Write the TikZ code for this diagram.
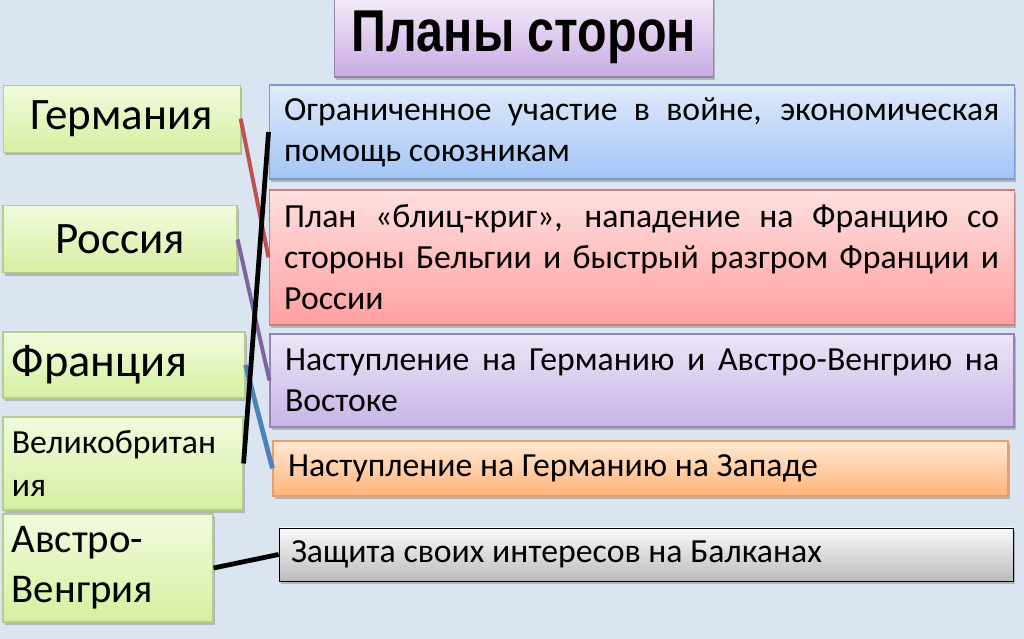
\documentclass[tikz,border=0pt]{standalone}
\usepackage{fontspec}
\setmainfont{Carlito}
\newfontfamily\headfont[FakeStretch=0.82]{Liberation Sans}
\usepackage{xcolor}
\usetikzlibrary{shadows, backgrounds}

\definecolor{slidebg}{RGB}{219,229,241}
\definecolor{greentop}{RGB}{242,251,222}
\definecolor{greenbot}{RGB}{214,239,160}
\definecolor{greenedge}{RGB}{182,204,140}
\definecolor{bluetop}{RGB}{224,234,251}
\definecolor{bluebot}{RGB}{163,197,245}
\definecolor{blueedge}{RGB}{122,152,200}
\definecolor{redtop}{RGB}{255,224,224}
\definecolor{redbot}{RGB}{255,160,160}
\definecolor{rededge}{RGB}{210,122,122}
\definecolor{violettop}{RGB}{236,230,247}
\definecolor{violetbot}{RGB}{199,180,230}
\definecolor{violetedge}{RGB}{150,130,182}
\definecolor{orangetop}{RGB}{255,233,212}
\definecolor{orangebot}{RGB}{255,180,122}
\definecolor{orangeedge}{RGB}{228,160,102}
\definecolor{greytop}{RGB}{250,250,250}
\definecolor{greybot}{RGB}{188,188,188}
\definecolor{titletop}{RGB}{245,236,249}
\definecolor{titlebot}{RGB}{200,170,226}
\definecolor{titleedge}{RGB}{150,132,172}
\definecolor{linkred}{RGB}{192,80,77}
\definecolor{linkviolet}{RGB}{128,100,162}
\definecolor{linkblue}{RGB}{79,129,189}

\begin{document}
\begin{tikzpicture}[
    box/.style={draw, line width=0.8pt, inner sep=0pt,
        drop shadow={shadow xshift=0.05cm, shadow yshift=-0.07cm, opacity=0.3, fill=black!70}},
    titlebox/.style={box, draw=titleedge, top color=titletop, bottom color=titlebot,
        font=\headfont\bfseries\fontsize{42}{48}\selectfont},
    country/.style={box, draw=greenedge, top color=greentop, bottom color=greenbot},
    countryleft/.style={country, align=left, inner xsep=0.22cm},
    plan/.style={box, align=justify, inner xsep=0.375cm, font=\fontsize{24}{29.2}\selectfont},
    link/.style={line width=2.8pt},
    heavylink/.style={line width=3.4pt}
]
    \fill[slidebg] (0,0) rectangle (25.6,15.975);
    \useasboundingbox (0,0) rectangle (25.6,15.975);

    \node[titlebox, minimum width=9.475cm, minimum height=2.0cm] (title) at (13.09, 15.05) {Планы сторон};

    % Countries on the left.
    \node[country, minimum width=5.925cm, minimum height=1.675cm, font=\fontsize{32}{38}\selectfont] (germany) at (3.04, 13.01) {Германия};
    \node[country, minimum width=5.85cm, minimum height=1.675cm, font=\fontsize{32}{38}\selectfont] (russia) at (3.0, 9.99) {Россия};
    \node[countryleft, text width=5.61cm, minimum height=1.65cm, font=\fontsize{33}{39}\selectfont] (france) at (3.1, 6.85) {Франция};
    \node[countryleft, text width=5.56cm, minimum height=2.325cm, font=\fontsize{24}{30}\selectfont] (britain) at (3.075, 4.3875) {Великобритан\\ия};
    \node[countryleft, text width=4.81cm, minimum height=2.7cm, font=\fontsize{29}{35.5}\selectfont] (austria) at (2.7, 1.775) {Австро-\\Венгрия};

    % Plans on the right.
    \node[plan, draw=blueedge, top color=bluetop, bottom color=bluebot, text width=17.875cm, minimum height=2.35cm] (limited) at (16.04, 12.675) {Ограниченное участие в войне, экономическая\linebreak помощь союзникам};
    \node[plan, draw=rededge, top color=redtop, bottom color=redbot, text width=17.875cm, minimum height=3.375cm] (blitz) at (16.04, 9.5375) {План «блиц-криг», нападение на Францию со\linebreak стороны Бельгии и быстрый разгром Франции и\linebreak России};
    \node[plan, draw=violetedge, top color=violettop, bottom color=violetbot, text width=17.85cm, minimum height=2.325cm] (east) at (16.05, 6.4625) {Наступление на Германию и Австро-Венгрию на\linebreak Востоке};
    \node[plan, draw=orangeedge, top color=orangetop, bottom color=orangebot, text width=17.625cm, minimum height=1.375cm] (west) at (16.0125, 4.2625) {Наступление на Германию на Западе};
    \node[plan, draw=black, top color=greytop, bottom color=greybot, line width=0.6pt, inner xsep=0.3cm, text width=17.75cm, minimum height=1.325cm] (balkans) at (16.15, 2.1125) {Защита своих интересов на Балканах};

    \draw[link, linkred] (germany.east) -- (blitz.west);
    \draw[link, linkviolet] (russia.east) -- (east.west);
    \draw[heavylink, linkblue] (france.east) -- (west.west);
    \draw[heavylink, black] (britain.east) -- (limited.west);
    \draw[heavylink, black] (austria.east) -- (balkans.west);

\end{tikzpicture}
\end{document}
